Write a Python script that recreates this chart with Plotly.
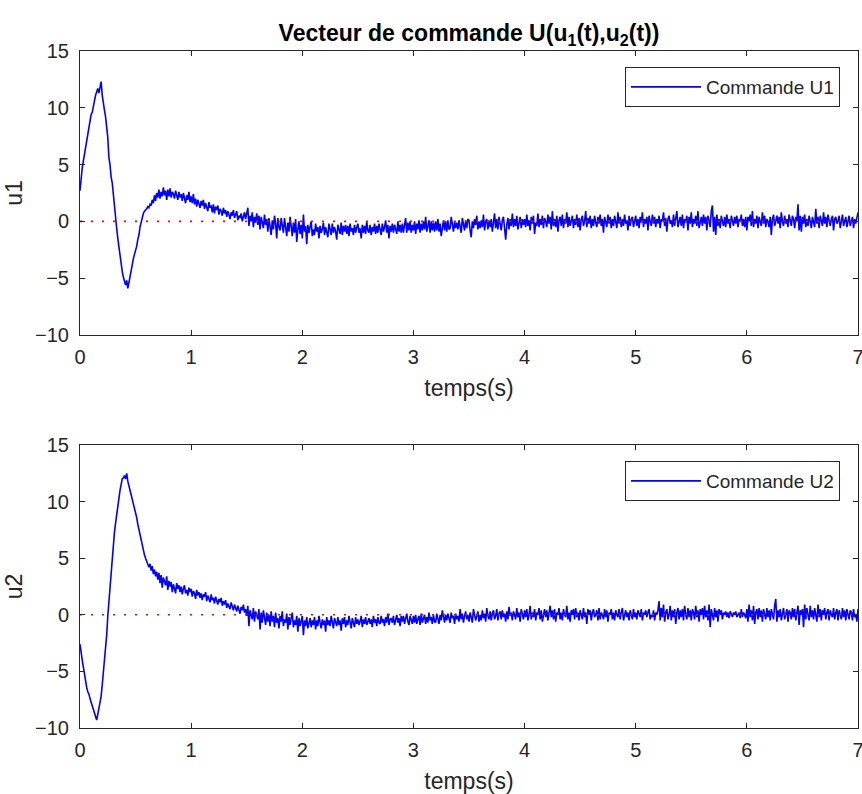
import plotly.graph_objects as go

dt = 0.01

u1 = [
    2.7, 3.9, 4.7, 5.3, 5.9, 6.6, 7.3, 7.9, 8.4, 8.8,
    9.4, 9.6, 10.2, 10.5, 11.1, 11.4, 11.7, 11.3, 11.9, 12.3,
    11.1, 10.6, 9.8, 9.2, 8.2, 7.4, 5.6, 5.0, 3.9, 3.4,
    2.4, 1.2, 0.5, -0.6, -1.5, -2.3, -3.0, -3.8, -4.4, -4.9,
    -5.3, -5.6, -5.2, -5.9, -5.4, -4.8, -4.3, -3.9, -3.3, -2.9,
    -2.6, -2.2, -1.6, -1.2, -0.5, -0.1, 0.4, 0.7, 0.9, 1.0,
    1.1, 1.3, 1.2, 1.5, 1.4, 1.9, 1.6, 2.3, 1.8, 2.5,
    2.1, 2.8, 2.0, 2.6, 2.2, 3.0, 2.3, 2.7, 1.9, 2.8,
    2.2, 2.9, 2.1, 2.6, 2.4, 2.0, 2.7, 2.3, 1.9, 2.6,
    2.1, 2.4, 1.8, 2.5, 2.0, 1.6, 2.3, 1.9, 2.6, 1.7,
    2.2, 1.6, 2.4, 1.5, 2.0, 1.3, 1.9, 1.6, 1.2, 1.8,
    1.4, 1.9, 1.1, 1.6, 1.3, 0.9, 1.7, 1.2, 1.4, 0.8,
    1.5, 0.7, 1.3, 1.0, 1.4, 0.6, 1.1, 0.9, 0.5, 1.2,
    0.7, 1.0, 0.4, 0.9, 0.6, 0.2, 0.8, 0.5, 1.0, 0.3,
    0.6, 0.9, 0.1, 0.5, 0.3, 0.7, 0.0, 0.4, 0.8, 0.2,
    0.6, 1.2, -0.4, 0.5, 0.0, 0.8, -0.5, 0.4, -0.1, 0.7,
    -0.3, 0.5, -0.7, 0.4, -0.1, -0.6, 0.6, -0.3, 0.2, -0.9,
    0.3, -0.4, -1.2, 0.1, -0.7, 0.5, -0.2, -1.5, 0.3, -0.5,
    -0.8, 0.3, -0.3, -1.0, 0.3, -0.6, -1.3, -0.1, -0.9, 0.4,
    -0.3, -1.3, -0.1, -1.0, 0.2, -1.8, -0.7, 0.0, -1.1, -0.3,
    -1.5, 0.6, -0.9, -0.4, -2.0, -0.3, -1.0, -0.5, 0.0, -1.3,
    -0.7, -1.2, -0.2, -0.9, -0.5, -1.5, -0.4, -1.0, -0.7, -0.1,
    -1.2, -0.5, -0.9, -1.4, -0.2, -0.7, -1.2, -0.2, -1.0, -0.5,
    -0.9, -1.6, -0.3, -0.7, -1.1, -0.1, -1.2, -0.4, -0.9, -0.3,
    -1.1, -0.4, -1.3, -0.2, -0.9, -0.6, -1.2, -0.3, -1.0, -0.5,
    -0.2, -1.0, -0.6, -1.5, -0.3, -1.0, -0.4, -1.1, 0.0, -0.8,
    -1.0, -0.3, -1.2, -0.5, -0.9, -0.2, -1.1, -0.4, -1.0, -0.2,
    -0.8, -1.2, -0.2, -0.9, -0.5, 0.1, -1.0, -0.3, -1.5, -0.4,
    -0.9, -0.2, -1.0, -0.3, -0.7, -1.1, 0.0, -0.9, -0.3, -1.0,
    -0.2, -1.0, -0.3, 0.3, -1.0, -0.1, -0.8, 0.0, -1.0, -0.3,
    -0.8, 0.0, -1.1, -0.2, -0.7, 0.1, -1.0, -0.2, -0.8, 0.0,
    -0.7, 0.4, -0.9, -0.2, 0.1, -1.0, 0.0, -0.8, -0.1, -0.9,
    0.0, -0.8, 0.2, -0.9, -0.2, -1.3, -0.5, 0.1, -0.8, 0.0,
    -0.9, 0.1, -0.7, -0.6, 0.4, -0.1, -0.9, 0.0, -0.6, -0.1,
    -0.7, 0.1, -0.6, -1.0, 0.3, -0.2, -0.8, 0.1, -0.6, 0.2,
    0.1, -0.8, -1.4, 0.0, -0.6, 0.2, -0.3, 0.5, -0.7, 0.0,
    -0.6, 0.1, -0.5, 0.6, -0.8, 0.0, 0.2, -0.7, 0.1, -0.5,
    0.2, -0.9, 0.1, 0.7, -0.6, 0.2, -0.7, 0.4, -0.2, -0.8,
    0.1, 0.4, -0.6, -1.6, -0.3, 0.3, -0.7, 0.2, -0.4, 0.7,
    -0.5, 0.2, -0.4, 0.5, -0.7, 0.1, 0.4, -0.6, 0.2, -0.3,
    0.2, -0.5, 0.6, -0.4, 0.1, -0.8, 0.4, -0.2, 0.5, -1.1,
    -0.1, -0.4, 0.7, -0.5, 0.2, -0.3, 0.5, -0.6, 0.3, 0.0,
    -0.5, 0.6, -0.2, 0.4, -0.7, 0.9, -0.4, 0.2, -0.5, 0.5,
    -0.9, 0.1, 0.4, -0.4, 0.6, -0.6, 0.2, -0.2, 0.8, -0.5,
    0.4, -0.4, 0.1, 0.5, -0.6, 0.2, -0.3, 0.6, -0.5, 0.3,
    -0.8, 0.2, 0.5, -0.4, 0.0, 0.9, -0.5, 0.3, -0.2, 0.5,
    -0.6, 0.2, -0.4, 0.5, -0.1, -0.5, 0.4, -0.2, 0.6, -0.4,
    0.2, -1.0, 0.4, -0.1, -0.5, 0.6, -0.2, 0.4, -0.6, 0.2,
    -0.4, 0.5, 0.0, -0.6, 0.8, -0.2, 0.4, -0.5, 0.2, -0.4,
    0.6, -0.2, 0.1, -0.8, 0.5, -0.4, 0.2, 0.4, -0.5, 0.0,
    0.5, -0.4, 0.2, -0.6, 0.4, -0.1, 0.8, -0.5, 0.2, -0.2,
    0.4, -0.8, 0.5, 0.0, -0.4, 0.6, -0.2, 0.4, -0.5, 0.2,
    -0.2, 0.5, -0.6, 0.2, 0.0, 0.8, -0.4, 0.3, -0.9, 0.2,
    0.5, -0.2, 0.1, -0.5, 0.6, -0.4, 0.2, 0.9, -0.5, 0.0,
    0.4, -0.4, 0.6, -0.6, 0.2, -0.1, 0.5, -0.8, 0.4, -0.2,
    0.8, -0.5, 0.2, -0.2, 0.5, -0.4, 0.9, -0.6, 0.0, 0.4,
    -0.4, 0.6, -0.2, 0.4, -0.8, 0.5, 0.0, -0.5, 0.9, 1.4,
    -0.9, 0.4, -1.2, 0.6, -0.4, 0.2, -0.6, 0.5, 0.0, -0.4,
    0.4, -0.5, 0.6, -0.2, 0.2, -0.6, 0.5, 0.0, -0.4, 0.4,
    -0.2, 0.5, -0.5, 0.2, 0.0, 0.6, -0.4, 0.2, -0.5, 0.4,
    -0.8, 0.4, 0.0, 0.6, -0.4, 0.9, -0.5, 0.2, -0.2, 0.5,
    -0.6, 0.4, 0.0, -0.4, 0.8, -0.2, 0.5, -0.5, 0.2, 0.0,
    -0.5, 0.4, -1.2, 0.2, 0.6, -0.4, 0.0, 0.5, -0.2, 0.4,
    -0.6, 0.8, 0.0, -0.4, 0.5, -0.2, 0.2, -0.5, 0.6, 0.0,
    -0.4, 0.5, 0.2, -0.6, 0.4, 0.0, 1.5, -0.8, 0.5, -0.9,
    0.4, -0.2, 0.6, -0.5, 0.2, -0.4, 0.5, 0.0, -0.6, 0.4,
    0.0, -0.5, 1.1, -0.2, 0.4, -0.6, 0.5, 0.0, -0.4, 0.8,
    -0.2, 0.4, -0.5, 0.6, 0.0, -0.4, 0.2, 0.5, -0.8, 0.2,
    0.4, -0.2, 0.0, 0.5, -0.6, 0.2, 0.6, -0.4, 0.0, 0.4,
    -0.5, 0.2, 0.5, -0.4, 0.0, 0.4, -0.6, 0.2, -0.2, 0.5,
    0.8,
]

u2 = [
    -2.6, -3.5, -4.0, -4.6, -5.3, -5.6, -6.4, -6.8, -7.0, -7.4,
    -7.7, -8.0, -8.3, -8.7, -9.0, -9.3, -8.8, -8.3, -8.0, -7.2,
    -6.2, -5.1, -4.1, -3.2, -1.8, -0.1, 1.2, 2.4, 3.4, 4.8,
    6.2, 7.3, 8.1, 8.9, 9.9, 10.3, 11.0, 11.5, 12.0, 12.1,
    12.3, 12.0, 12.5, 11.8, 11.5, 11.0, 10.6, 10.2, 9.8, 9.4,
    9.1, 8.6, 8.0, 7.5, 7.1, 6.5, 6.2, 5.7, 5.3, 5.0,
    4.7, 4.6, 4.2, 4.5, 3.9, 4.3, 3.6, 4.0, 3.4, 3.8,
    3.1, 3.7, 2.8, 3.5, 2.4, 3.3, 3.0, 2.6, 3.4, 2.2,
    3.0, 2.5, 2.9, 2.0, 2.7, 2.4, 1.9, 2.8, 2.3, 2.6,
    2.0, 2.5, 1.8, 2.3, 2.6, 1.9, 2.2, 1.7, 2.4, 2.0,
    2.3, 1.6, 2.1, 1.9, 1.4, 2.2, 1.7, 2.0, 1.5, 1.9,
    1.3, 1.8, 1.6, 2.0, 1.2, 1.7, 1.4, 1.1, 1.8, 1.3,
    1.5, 1.0, 1.6, 1.2, 0.9, 1.4, 1.1, 1.5, 0.8, 1.2,
    0.9, 1.3, 0.6, 1.0, 0.8, 0.5, 1.1, 0.7, 0.4, 0.9,
    0.6, 0.3, 0.8, 0.5, 0.1, 0.7, 0.4, 0.9, 0.2, 0.5,
    -0.1, 0.8, -1.0, 0.4, 0.0, -0.4, 0.6, -0.6, 0.3, -0.1,
    -0.4, 0.5, -1.3, 0.2, -0.7, 0.4, -0.3, -0.9, 0.2, -0.6,
    0.0, -1.0, 0.3, -0.6, -0.1, -1.1, 0.2, -0.7, -0.3, -1.2,
    -0.1, -0.6, 0.3, -1.0, -0.4, -0.7, 0.1, -1.3, -0.2, -0.9,
    -0.3, 0.2, -1.1, -0.5, -0.9, -0.1, -1.5, -0.3, -1.0, -0.5,
    -0.1, -1.8, -0.5, -1.0, -0.2, -1.2, -0.7, -0.3, -1.1, -0.5,
    -0.9, -0.2, -1.3, -0.5, -1.0, -0.1, -0.7, -1.2, -0.4, -0.9,
    -0.5, -1.5, -0.2, -0.9, -0.5, -1.0, -0.1, -0.8, -1.2, -0.3,
    -0.7, -1.0, -0.2, -0.9, -0.5, -1.4, -0.3, -0.8, -0.2, -1.1,
    -0.5, -0.9, -0.1, -0.7, -1.2, -0.3, -0.6, -1.1, -0.2, -0.8,
    -0.4, -0.9, -0.6, -0.1, -1.1, -0.4, -0.8, -0.2, -0.9, -0.6,
    -0.3, -0.8, -0.4, -1.1, -0.1, -0.7, -0.4, -1.0, -0.2, -0.7,
    -0.8, -0.1, -0.7, -0.4, -1.0, -0.2, -0.7, 0.1, -0.9, -0.4,
    -0.3, -0.7, -0.1, -0.9, -0.4, 0.0, -0.7, -0.3, -1.0, -0.1,
    -0.6, -0.1, -0.8, -0.3, 0.1, -0.6, -0.9, -0.1, -0.4, -0.8,
    -0.1, -0.7, 0.0, -0.8, -0.4, -0.1, -0.9, 0.1, -0.7, -0.3,
    0.0, -0.8, -0.2, -0.7, 0.2, -0.5, -0.2, -0.8, 0.0, -0.6,
    -0.7, 0.1, -0.3, -0.8, 0.0, -0.5, 0.4, -0.3, -0.7, 0.0,
    -0.5, 0.1, -0.4, -0.7, 0.2, -0.3, -0.1, -0.8, 0.1, -0.4,
    -0.1, -0.6, 0.5, -0.4, 0.1, -0.7, -0.1, 0.3, -0.4, 0.0,
    -0.6, 0.2, -0.2, -0.7, 0.5, 0.0, -0.5, -0.1, 0.3, -0.6,
    0.0, -0.5, 0.4, -0.3, 0.1, -0.6, 0.6, -0.1, -0.4, 0.3,
    -0.5, 0.1, 0.4, -0.4, -0.1, 0.5, -0.5, 0.1, 0.3, -0.4,
    0.4, -0.2, 0.1, -0.6, 0.3, -0.4, 0.7, -0.1, 0.2, -0.5,
    0.3, 0.0, -0.4, 0.6, -0.2, 0.2, -0.6, 0.5, 0.0, -0.4,
    0.4, -0.2, 0.5, -0.5, 0.0, 0.8, -0.4, 0.2, -0.2, 0.5,
    -0.5, 0.2, 0.0, 0.6, -0.4, 0.4, -0.6, 0.2, 0.5, -0.2,
    0.4, -0.5, 0.0, 0.8, -0.2, 0.4, -0.4, 0.5, -0.6, 0.2,
    0.0, 0.6, -0.4, 0.2, -0.5, 0.5, 0.0, -0.2, 0.8, -0.4,
    0.2, -0.6, 0.4, 0.0, 0.5, -0.4, 0.6, -0.2, 0.2, -0.5,
    0.4, 0.0, -0.4, 0.6, -0.2, 0.2, -0.8, 0.5, 0.0, 0.4,
    -0.5, 0.2, 0.5, -0.2, 0.0, 0.4, -0.5, 0.6, -0.4, 0.2,
    0.0, -0.4, 0.5, -0.2, 0.4, -0.6, 0.2, 0.0, 0.5, -0.4,
    0.2, -0.5, 0.4, 0.0, -0.2, 0.5, -0.4, 0.2, 0.6, -0.5,
    0.0, 0.4, -0.2, 0.2, -0.5, 0.4, 0.0, -0.4, 0.5, -0.2,
    0.2, -0.4, 0.4, 0.0, -0.2, 0.5, -0.5, 0.2, 0.0, 0.4,
    -0.2, 0.2, 0.5, -0.4, 0.0, -0.2, 0.4, -0.5, 0.2, 0.0,
    0.4, 1.2, -0.5, 0.6, -0.2, 0.9, -0.6, 0.2, 0.5, -0.4,
    0.0, 0.8, -0.5, 0.4, -0.2, 0.5, -0.8, 0.2, 0.6, -0.4,
    0.4, -0.2, 0.5, -0.5, 0.8, 0.0, -0.4, 0.6, -0.2, 0.4,
    -0.5, 0.5, 0.2, -0.4, 0.8, -0.2, 0.4, -0.6, 0.5, 0.0,
    0.6, -0.4, 0.8, -0.2, 0.4, -0.5, 0.9, -1.1, 0.5, 0.0,
    -0.5, 0.6, -0.2, 0.4, -0.6, 0.5, 0.0, 0.4, -0.4, 0.2,
    0.0, 0.3, -0.2, 0.2, -0.3, 0.3, 0.0, -0.2, 0.2, 0.0,
    0.3, -0.2, 0.0, 0.2, -0.3, 0.5, -0.2, 0.2, 0.0, -0.3,
    0.5, -0.6, 0.9, -0.2, 0.4, -0.5, 0.8, -0.8, 0.2, 0.5,
    -0.4, 0.6, -0.2, 0.4, -0.6, 0.5, 0.0, -0.4, 0.6, -0.2,
    0.4, -0.5, 0.5, 0.0, -0.4, 0.8, 1.4, -0.6, 0.4, -0.2,
    0.5, -0.5, 0.2, 0.6, -0.4, 0.0, 0.5, -0.6, 0.4, 0.2,
    -0.4, 0.6, -0.2, 0.5, -0.5, 0.2, 0.8, -0.9, 0.4, 0.0,
    0.5, -1.1, 0.9, -0.4, 0.6, 0.0, -0.5, 0.8, -0.2, 0.4,
    -0.4, 0.6, 0.0, -0.6, 0.9, -0.2, 0.5, -0.5, 0.4, 0.0,
    0.6, -0.4, 0.2, 0.5, -0.5, 0.4, 0.0, -0.2, 0.6, -0.4,
    0.2, 0.5, -0.5, 0.4, 0.0, -0.4, 0.6, -0.2, 0.4, -0.5,
    0.5, 0.0, -0.4, 0.4, 0.2, -0.5, 0.5, -0.2, 0.0, -0.6,
    0.5,
]

t_u1 = [round(i * dt, 2) for i in range(len(u1))]
t_u2 = [round(i * dt, 2) for i in range(len(u2))]

ref_t = [0, 7]
ref_y = [0, 0]

title_text = "<b>Vecteur de commande U(u<sub>1</sub>(t),u<sub>2</sub>(t))</b>"
x_label = "temps(s)"
y_labels = ["u1", "u2"]
legend_names = ["Commande U1", "Commande U2"]

FONT = "Liberation Sans, Arial, Helvetica, sans-serif"
AX = "#262626"
TICK_SIZE = 20
LABEL_SIZE = 23

fig = go.Figure()
fig.add_trace(go.Scatter(x=t_u1, y=u1, mode="lines", name=legend_names[0],
                         line=dict(color="#0000ff", width=1.6), xaxis="x", yaxis="y", legend="legend"))
fig.add_trace(go.Scatter(x=ref_t, y=ref_y, mode="lines", line=dict(color="red", width=1.6, dash="2px,9px"),
                         showlegend=False, xaxis="x", yaxis="y", hoverinfo="skip"))
fig.add_trace(go.Scatter(x=t_u2, y=u2, mode="lines", name=legend_names[1],
                         line=dict(color="#0000ff", width=1.6), xaxis="x2", yaxis="y2", legend="legend2"))
fig.add_trace(go.Scatter(x=ref_t, y=ref_y, mode="lines", line=dict(color="red", width=1.6, dash="2px,9px"),
                         showlegend=False, xaxis="x2", yaxis="y2", hoverinfo="skip"))

H = 794
top_px, bot_px = 51, 728
ph = bot_px - top_px

def frac(px):
    return (bot_px - px) / ph

axis_common = dict(showline=True, linecolor=AX, linewidth=1, mirror="ticks", ticks="inside",
                   ticklen=5, tickcolor=AX, showgrid=False, zeroline=False, automargin=False,
                   ticklabeloverflow="allow",
                   tickfont=dict(family=FONT, size=TICK_SIZE, color=AX))

legend_common = dict(xanchor="right", yanchor="top", bordercolor=AX, borderwidth=1, bgcolor="white",
                     itemwidth=70, tracegroupgap=0, font=dict(family=FONT, size=19, color=AX))

fig.update_layout(
    width=862, height=794,
    margin=dict(l=80, r=4, t=top_px, b=H - bot_px),
    paper_bgcolor="white", plot_bgcolor="white",
    font=dict(family=FONT, size=LABEL_SIZE, color=AX),
    title=dict(text=title_text, x=0.5, xref="paper", xanchor="center", y=1 - 33 / H, yref="container",
               yanchor="middle", font=dict(family=FONT, size=LABEL_SIZE, color="black")),
    xaxis=dict(domain=[0, 1], anchor="y", range=[0, 7], dtick=1, tick0=0, ticklabelstandoff=4,
               title=dict(text=x_label, standoff=12, font=dict(size=LABEL_SIZE)), **axis_common),
    yaxis=dict(domain=[frac(335), 1], anchor="x", range=[-10, 15], dtick=5, tick0=-10,
               title=dict(text=y_labels[0], standoff=6, font=dict(size=LABEL_SIZE)), ticklabelstandoff=6,
               **axis_common),
    xaxis2=dict(domain=[0, 1], anchor="y2", range=[0, 7], dtick=1, tick0=0, ticklabelstandoff=4,
                title=dict(text=x_label, standoff=12, font=dict(size=LABEL_SIZE)), **axis_common),
    yaxis2=dict(domain=[0, frac(445)], anchor="x2", range=[-10, 15], dtick=5, tick0=-10,
                title=dict(text=y_labels[1], standoff=6, font=dict(size=LABEL_SIZE)), ticklabelstandoff=6,
                **axis_common),
    legend=dict(x=(840 - 80) / 778, y=frac(67), **legend_common),
    legend2=dict(x=(840 - 80) / 778, y=frac(461), **legend_common),
    showlegend=True,
)

fig.write_html("out.html")
